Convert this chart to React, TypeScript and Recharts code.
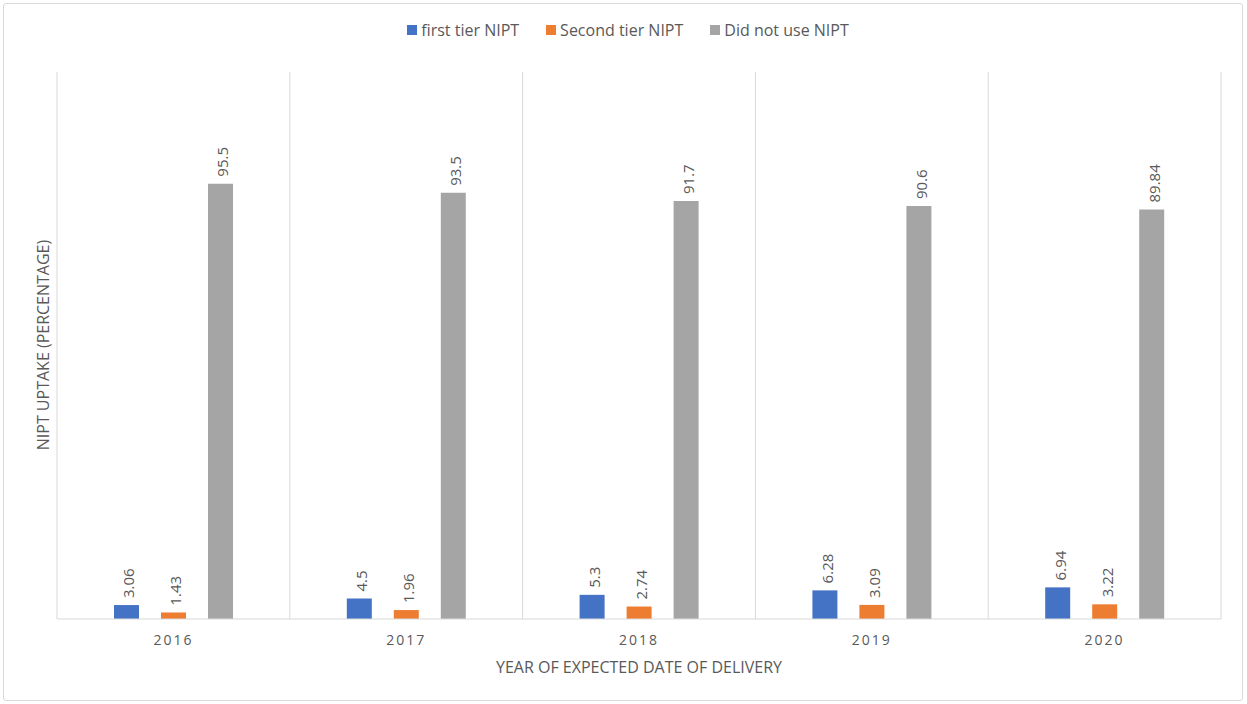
import { BarChart, Bar, XAxis, YAxis, CartesianGrid, Legend } from 'recharts'

const years = ['2016', '2017', '2018', '2019', '2020']
const firstTier = [3.06, 4.5, 5.3, 6.28, 6.94]
const secondTier = [1.43, 1.96, 2.74, 3.09, 3.22]
const didNotUse = [95.5, 93.5, 91.7, 90.6, 89.84]

const seriesNames = ['first tier NIPT', 'Second tier NIPT', 'Did not use NIPT']
const seriesColors = ['#4472C4', '#ED7D31', '#A5A5A5']

const font = '"Open Sans", sans-serif'
const textColor = '#595959'
const lineColor = '#d9d9d9'

const data = years.map((year, i) => ({
  year,
  first: firstTier[i],
  second: secondTier[i],
  none: didNotUse[i],
}))

const keys = ['first', 'second', 'none']

// rotated value above each bar
function ValueLabel(props: any) {
  const { x, y, width, value } = props
  const cx = x + width / 2 + 2
  const cy = y - 7
  return (
    <text
      x={cx}
      y={cy}
      transform={`rotate(-90 ${cx} ${cy})`}
      textAnchor="start"
      dominantBaseline="central"
      fontSize={15}
      fontFamily={font}
      fill={textColor}
    >
      {value}
    </text>
  )
}

function LegendBox() {
  return (
    <div style={{ display: 'flex', justifyContent: 'center', height: 20, fontFamily: font, fontSize: 16, color: textColor }}>
      {seriesNames.map((name, i) => (
        <div key={name} style={{ display: 'flex', alignItems: 'center', marginLeft: i ? 27 : 0 }}>
          <span style={{ width: 10, height: 10, background: seriesColors[i], marginRight: 4, display: 'inline-block' }} />
          <span>{name}</span>
        </div>
      ))}
    </div>
  )
}

function XTitle(props: any) {
  const { viewBox } = props
  const cx = viewBox.x + viewBox.width / 2
  return (
    <text x={cx} y={667} textAnchor="middle" dominantBaseline="central" fontSize={16} fontFamily={font} fill={textColor}>
      YEAR OF EXPECTED DATE OF DELIVERY
    </text>
  )
}

export default function App() {
  return (
    <div style={{ position: 'absolute', left: 0, top: 0, width: 1247, height: 704, background: '#fff' }}>
      <div style={{ position: 'absolute', left: 3, top: 3, width: 1238, height: 696, border: `1px solid ${lineColor}`, borderRadius: 3 }} />
      <BarChart
        width={1247}
        height={704}
        data={data}
        margin={{ top: 52, right: 26, bottom: 55, left: 57 }}
        barSize={25}
        barGap={22}
      >
        <CartesianGrid
          horizontal={false}
          stroke={lineColor}
          verticalCoordinatesGenerator={({ offset }: any) =>
            [0, 1, 2, 3, 4, 5].map(i => offset.left + (i * offset.width) / 5)
          }
        />
        <XAxis
          dataKey="year"
          tickLine={false}
          axisLine={{ stroke: lineColor }}
          tick={{ fill: textColor, fontSize: 14, fontFamily: font, letterSpacing: 2 }}
          tickMargin={10}
          label={<XTitle />}
        />
        <YAxis hide domain={[0, 120]} />
        <Legend verticalAlign="top" content={<LegendBox />} wrapperStyle={{ top: 20, left: 46 }} />
        {keys.map((k, i) => (
          <Bar key={k} dataKey={k} name={seriesNames[i]} fill={seriesColors[i]} isAnimationActive={false} label={<ValueLabel />} />
        ))}
        <text x={43} y={345} transform="rotate(-90 43 345)" textAnchor="middle" dominantBaseline="central"
          fontSize={16} fontFamily={font} fill={textColor}>
          NIPT UPTAKE (PERCENTAGE)
        </text>
      </BarChart>
    </div>
  )
}
